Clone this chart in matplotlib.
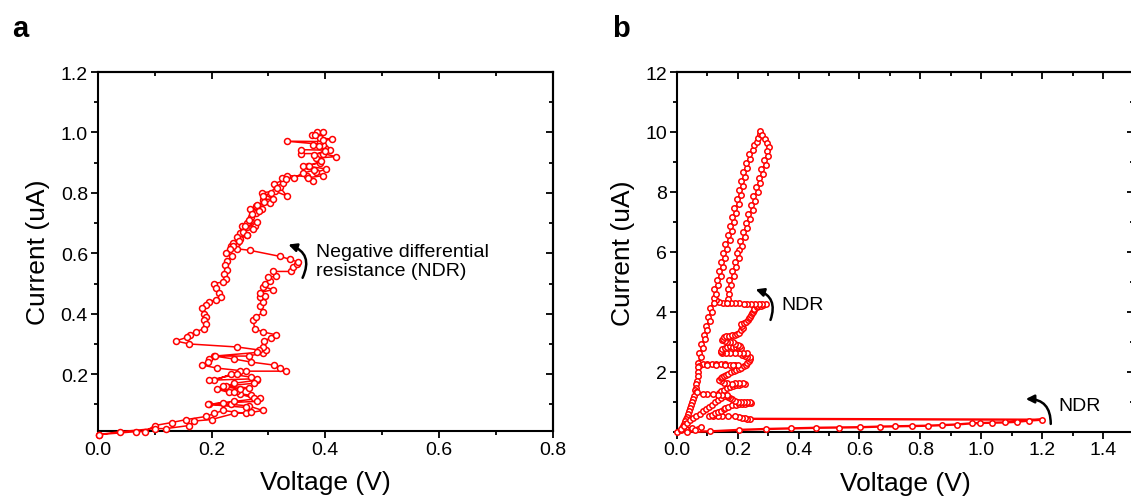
import matplotlib
matplotlib.use("Agg")
import matplotlib.pyplot as plt
from matplotlib.ticker import MultipleLocator

plt.rcParams['font.family'] = ['Liberation Sans', 'DejaVu Sans']

# ---------------- Panel a data (Voltage V, Current uA) ----------------
a_voltage = [
    0.002, 0.068, 0.083, 0.10, 0.13, 0.156, 0.19, 0.205, 0.22, 0.26, 0.29, 0.265, 0.235, 0.195,
    0.24, 0.285, 0.27, 0.25, 0.23, 0.21, 0.245, 0.265, 0.225, 0.24, 0.28, 0.27, 0.235, 0.205,
    0.25, 0.33, 0.32, 0.31, 0.27, 0.24, 0.205, 0.265, 0.29, 0.295, 0.29, 0.292, 0.304, 0.314,
    0.29, 0.276, 0.273, 0.279, 0.29, 0.285, 0.29, 0.285, 0.294, 0.285, 0.308, 0.291, 0.294,
    0.303, 0.30, 0.314, 0.308, 0.339, 0.343, 0.35, 0.352, 0.338, 0.32, 0.267, 0.244,
    0.235, 0.244, 0.25, 0.262, 0.25, 0.253, 0.276, 0.262, 0.27, 0.279, 0.267, 0.288, 0.279,
    0.303, 0.291, 0.308, 0.288, 0.311, 0.332, 0.32, 0.326, 0.323, 0.332, 0.367, 0.379, 0.369,
    0.396, 0.384, 0.402, 0.37, 0.361, 0.39, 0.384, 0.419, 0.396, 0.358, 0.358, 0.408, 0.399,
    0.379, 0.396, 0.332, 0.39, 0.411, 0.39, 0.376, 0.385, 0.396,
    0.382, 0.395, 0.388, 0.40, 0.38, 0.392, 0.372, 0.38, 0.36, 0.345, 0.33, 0.31, 0.315,
    0.305, 0.29, 0.293, 0.28, 0.283, 0.271, 0.265, 0.28, 0.258, 0.272, 0.255, 0.262, 0.245,
    0.248, 0.237, 0.238,
    0.232, 0.226, 0.236, 0.228, 0.224, 0.227, 0.222, 0.225, 0.22, 0.204, 0.207, 0.213, 0.216,
    0.208, 0.196, 0.19, 0.183, 0.186, 0.19, 0.186, 0.19, 0.186, 0.172, 0.162, 0.157, 0.137,
    0.161, 0.245, 0.284,
    0.28, 0.206, 0.196, 0.193, 0.184, 0.21, 0.26, 0.245, 0.196, 0.28, 0.275, 0.22, 0.25, 0.24,
    0.275, 0.28, 0.22, 0.193, 0.26, 0.27, 0.24, 0.20, 0.17, 0.16, 0.12, 0.10, 0.04, 0.002,
]
a_current = [
    0.0, 0.01, 0.01, 0.03, 0.04, 0.05, 0.06, 0.07, 0.08, 0.07, 0.08, 0.095, 0.10, 0.10,
    0.11, 0.12, 0.13, 0.135, 0.14, 0.15, 0.145, 0.155, 0.16, 0.17, 0.18, 0.19, 0.20, 0.18,
    0.21, 0.21, 0.22, 0.23, 0.24, 0.25, 0.26, 0.26, 0.27, 0.28, 0.29, 0.31, 0.32, 0.33,
    0.34, 0.35, 0.38, 0.39, 0.405, 0.425, 0.44, 0.455, 0.46, 0.47, 0.48, 0.49, 0.50,
    0.51, 0.52, 0.525, 0.54, 0.54, 0.555, 0.563, 0.571, 0.58, 0.59, 0.61, 0.615,
    0.625, 0.635, 0.648, 0.66, 0.668, 0.69, 0.69, 0.70, 0.72, 0.735, 0.745, 0.745, 0.757,
    0.765, 0.778, 0.78, 0.80, 0.806, 0.79, 0.82, 0.833, 0.85, 0.857, 0.855, 0.838, 0.85,
    0.857, 0.868, 0.879, 0.888, 0.888, 0.899, 0.915, 0.92, 0.93, 0.93, 0.943, 0.941, 0.95,
    0.96, 0.96, 0.971, 0.97, 0.978, 0.982, 0.99, 1.0, 1.0,
    0.99, 0.975, 0.955, 0.94, 0.925, 0.905, 0.89, 0.875, 0.865, 0.85, 0.845, 0.83, 0.815,
    0.80, 0.79, 0.77, 0.76, 0.74, 0.73, 0.71, 0.705, 0.69, 0.68, 0.672, 0.66, 0.655,
    0.64, 0.635, 0.625,
    0.615, 0.60, 0.59, 0.575, 0.56, 0.545, 0.53, 0.515, 0.505, 0.50, 0.485, 0.47, 0.457,
    0.447, 0.44, 0.428, 0.418, 0.40, 0.39, 0.38, 0.365, 0.35, 0.34, 0.33, 0.322, 0.31,
    0.30, 0.29, 0.28,
    0.272, 0.26, 0.25, 0.24, 0.23, 0.22, 0.21, 0.20, 0.18, 0.185, 0.17, 0.16, 0.15, 0.14,
    0.12, 0.11, 0.105, 0.10, 0.09, 0.075, 0.07, 0.05, 0.045, 0.03, 0.02, 0.02, 0.01, 0.0,
]

# ---------------- Panel b data (Voltage V, Current uA) ----------------
b_voltage = [
    # start near origin and low-current sweep out to 1.2 V
    0.0, 0.015, 0.03, 0.05, 0.07, 0.08, 0.06, 0.033, 0.108, 0.204, 0.292, 0.374, 0.457,
    0.534, 0.603, 0.666, 0.716, 0.773, 0.826, 0.870, 0.919, 0.969, 0.996, 1.035, 1.079,
    1.117, 1.156, 1.198,
    # NDR jump back and zig-zag rise
    0.24, 0.232, 0.225, 0.215, 0.205, 0.19, 0.17, 0.15, 0.135, 0.12, 0.105, 0.115, 0.125,
    0.135, 0.145, 0.155, 0.16, 0.17, 0.18, 0.195, 0.205, 0.215, 0.225, 0.235, 0.245, 0.24,
    0.232, 0.22, 0.21, 0.2, 0.19, 0.182, 0.175, 0.17, 0.165, 0.15, 0.14, 0.145, 0.155, 0.165,
    0.175, 0.185, 0.195, 0.205, 0.212, 0.225, 0.218, 0.205, 0.19, 0.18, 0.165, 0.155, 0.145,
    0.14, 0.144, 0.148, 0.155, 0.162, 0.17, 0.178, 0.187, 0.196, 0.204, 0.212, 0.22, 0.226,
    0.232, 0.238, 0.24, 0.24, 0.232, 0.225, 0.215, 0.222, 0.23, 0.218, 0.205, 0.19, 0.175,
    0.162, 0.15, 0.145, 0.145, 0.15, 0.158, 0.166, 0.175, 0.185, 0.195, 0.205, 0.21, 0.207,
    0.2, 0.192, 0.185, 0.175, 0.165, 0.157, 0.15, 0.152, 0.155, 0.163, 0.172, 0.181, 0.19,
    0.198, 0.205, 0.212, 0.218, 0.215, 0.212, 0.22, 0.228, 0.233, 0.238, 0.241, 0.243,
    0.247, 0.25, 0.253, 0.255, 0.262, 0.268, 0.276, 0.283, 0.292,
    # NDR at ~4.25 uA
    0.28, 0.27, 0.257, 0.245, 0.232, 0.22, 0.205, 0.19, 0.178, 0.165, 0.152, 0.14, 0.13,
    # up the left edge of the loop
    0.121, 0.130, 0.123, 0.137, 0.131, 0.144, 0.138, 0.152, 0.145, 0.159, 0.153, 0.166,
    0.160, 0.174, 0.167, 0.181, 0.175, 0.188, 0.182, 0.196, 0.189, 0.203, 0.197, 0.210,
    0.204, 0.217, 0.211, 0.225, 0.218, 0.232, 0.226, 0.240, 0.236, 0.250, 0.254, 0.262,
    0.268, 0.272, 0.275,
    # top of loop and down the right edge
    0.281, 0.29, 0.298, 0.303, 0.297, 0.300, 0.286, 0.292, 0.277, 0.283, 0.269, 0.275,
    0.260, 0.266, 0.252, 0.258, 0.243, 0.249, 0.235, 0.241, 0.226, 0.232, 0.218, 0.224,
    0.209, 0.215, 0.206, 0.198, 0.204, 0.190, 0.195, 0.181, 0.187, 0.173, 0.179, 0.168,
    0.171, 0.168, 0.165,
    # down the lower-left edge
    0.123, 0.109, 0.116, 0.102, 0.109, 0.095, 0.101, 0.088, 0.094, 0.081, 0.087, 0.074,
    0.080, 0.071,
    # bar at ~2.25 uA and back
    0.085, 0.10, 0.115, 0.13, 0.145, 0.16, 0.175, 0.19, 0.2, 0.185, 0.16, 0.13, 0.1, 0.072,
    # left edge down to ~1.3 uA
    0.071, 0.07, 0.069, 0.067, 0.065, 0.062, 0.06, 0.063,
    # bottom-left ramps and bar at ~1.25 uA
    0.058, 0.055, 0.051, 0.048, 0.044, 0.04, 0.036, 0.033, 0.03, 0.027, 0.023, 0.02, 0.017,
    0.015, 0.025, 0.035, 0.045, 0.055, 0.065, 0.075, 0.085, 0.095, 0.105, 0.115, 0.125,
    0.135, 0.145, 0.155, 0.165, 0.15, 0.135, 0.12, 0.1, 0.085, 0.066,
]
b_current = [
    0.0, 0.05, 0.10, 0.12, 0.10, 0.15, 0.06, 0.0, 0.01, 0.06, 0.09, 0.11, 0.13,
    0.14, 0.15, 0.17, 0.18, 0.19, 0.20, 0.22, 0.24, 0.28, 0.29, 0.30, 0.31,
    0.33, 0.37, 0.40,
    0.43, 0.44, 0.45, 0.47, 0.50, 0.51, 0.52, 0.53, 0.53, 0.53, 0.53, 0.57, 0.62,
    0.66, 0.70, 0.75, 0.80, 0.84, 0.88, 0.90, 0.92, 0.93, 0.94, 0.95, 0.97, 0.99,
    1.00, 0.98, 0.98, 1.00, 1.04, 1.08, 1.12, 1.16, 1.20, 1.25, 1.30, 1.35, 1.40, 1.45,
    1.50, 1.53, 1.55, 1.57, 1.58, 1.60, 1.63, 1.63, 1.61, 1.60, 1.61, 1.63, 1.68,
    1.72, 1.78, 1.82, 1.86, 1.90, 1.94, 1.98, 2.02, 2.06, 2.10, 2.14, 2.18, 2.22,
    2.28, 2.35, 2.42, 2.48, 2.50, 2.52, 2.56, 2.60, 2.62, 2.64, 2.64, 2.63, 2.62,
    2.62, 2.62, 2.66, 2.70, 2.75, 2.80, 2.83, 2.85, 2.84, 2.82, 2.80, 2.80, 2.86,
    2.90, 2.94, 2.98, 3.00, 3.00, 3.02, 3.05, 3.10, 3.15, 3.18, 3.20, 3.21, 3.22,
    3.26, 3.30, 3.38, 3.45, 3.52, 3.58, 3.62, 3.65, 3.72, 3.78, 3.84, 3.90,
    3.95, 4.00, 4.05, 4.10, 4.15, 4.18, 4.20, 4.22, 4.26,
    4.27, 4.27, 4.27, 4.27, 4.27, 4.27, 4.28, 4.28, 4.28, 4.28, 4.30, 4.32, 4.38,
    4.45, 4.60, 4.75, 4.90, 5.05, 5.20, 5.35, 5.50, 5.65, 5.80, 5.95, 6.10,
    6.25, 6.40, 6.55, 6.70, 6.85, 7.00, 7.15, 7.30, 7.45, 7.60, 7.75, 7.90,
    8.05, 8.20, 8.35, 8.50, 8.65, 8.80, 8.95, 9.10, 9.25, 9.40, 9.55, 9.65,
    9.80, 9.92, 10.02,
    9.90, 9.78, 9.64, 9.50, 9.35, 9.20, 9.05, 8.90, 8.75, 8.60, 8.45, 8.30,
    8.15, 8.00, 7.85, 7.70, 7.55, 7.40, 7.25, 7.10, 6.95, 6.80, 6.65, 6.50,
    6.35, 6.20, 6.05, 5.95, 5.80, 5.65, 5.50, 5.35, 5.20, 5.05, 4.90, 4.75,
    4.60, 4.42, 4.28,
    4.28, 4.13, 3.98, 3.83, 3.68, 3.53, 3.38, 3.23, 3.08, 2.93, 2.78, 2.63,
    2.48, 2.30,
    2.26, 2.26, 2.26, 2.26, 2.25, 2.25, 2.24, 2.24, 2.22, 2.21, 2.21, 2.21, 2.21, 2.20,
    2.15, 2.00, 1.85, 1.70, 1.58, 1.45, 1.38, 1.31,
    1.20, 1.10, 1.00, 0.90, 0.80, 0.70, 0.60, 0.50, 0.42, 0.35, 0.27, 0.20, 0.14,
    0.10, 0.20, 0.30, 0.38, 0.45, 0.53, 0.60, 0.68, 0.75, 0.83, 0.90, 0.98,
    1.05, 1.12, 1.18, 1.22, 1.23, 1.24, 1.25, 1.26, 1.27, 1.31,
]

a_xticks = [0.0, 0.2, 0.4, 0.6, 0.8]
a_yticks = [0.2, 0.4, 0.6, 0.8, 1.0, 1.2]
b_xticks = [0.0, 0.2, 0.4, 0.6, 0.8, 1.0, 1.2, 1.4]
b_yticks = [2, 4, 6, 8, 10, 12]

RED = '#ff0000'
W, H = 1131, 502
fig = plt.figure(figsize=(W / 100, H / 100), dpi=100)


def px_axes(x0, x1, y0, y1):
    return fig.add_axes([x0 / W, 1 - y1 / H, (x1 - x0) / W, (y1 - y0) / H])


def style_axes(ax, xticks, yticks, xminor, yminor, xfmt, yfmt):
    ax.set_xticks(xticks)
    ax.set_yticks(yticks)
    ax.set_xticklabels([xfmt.format(v) for v in xticks])
    ax.set_yticklabels([yfmt.format(v) for v in yticks])
    ax.xaxis.set_minor_locator(MultipleLocator(xminor))
    ax.yaxis.set_minor_locator(MultipleLocator(yminor))
    ax.tick_params(which='both', direction='out', width=1.3, labelsize=14, colors='black',
                   top=False, right=False)
    ax.tick_params(which='major', length=5, pad=2)
    ax.tick_params(which='minor', length=3)
    for s in ax.spines.values():
        s.set_linewidth(1.5)
    top = ax.secondary_xaxis('top')
    top.set_xticks(xticks)
    top.xaxis.set_minor_locator(MultipleLocator(xminor))
    top.tick_params(which='both', direction='in', width=1.3, labeltop=False)
    top.tick_params(which='major', length=5)
    top.tick_params(which='minor', length=3)
    top.spines['top'].set_linewidth(1.5)
    right = ax.secondary_yaxis('right')
    right.set_yticks(yticks)
    right.yaxis.set_minor_locator(MultipleLocator(yminor))
    right.tick_params(which='both', direction='in', width=1.3, labelright=False)
    right.tick_params(which='major', length=5)
    right.tick_params(which='minor', length=3)
    right.spines['right'].set_linewidth(1.5)


# ---------------- Panel a ----------------
axa = px_axes(97.7, 553, 73, 432)
axa.plot(a_voltage, a_current, '-o', color=RED, lw=1.1, ms=4.3, mew=1.1,
         mfc='white', mec=RED, clip_on=False, zorder=3)
axa.set_xlim(0.0, 0.8)
axa.set_ylim(0.012, 1.2)
style_axes(axa, a_xticks, a_yticks, 0.1, 0.1, '{:.1f}', '{:.1f}')
axa.set_xlabel('Voltage (V)', fontsize=19)
axa.set_ylabel('Current (uA)', fontsize=19)
axa.xaxis.set_label_coords(0.5, -0.11)
axa.yaxis.set_label_coords(-0.105, 0.5)
axa.text(0.384, 0.573, 'Negative differential\nresistance (NDR)', fontsize=14,
         ha='left', va='center', linespacing=1.15)
axa.annotate('', xy=(0.335, 0.629), xytext=(0.36, 0.519),
             arrowprops=dict(arrowstyle='-|>', color='black', lw=1.8, mutation_scale=12,
                             connectionstyle='arc3,rad=0.55', shrinkA=0, shrinkB=0))

# ---------------- Panel b ----------------
axb = px_axes(676.7, 1133.6, 73, 432.7)
axb.plot(b_voltage, b_current, '-o', color=RED, lw=1.7, ms=3.9, mew=1.1,
         mfc='white', mec=RED, clip_on=False, zorder=3)
axb.set_xlim(0.0, 1.5)
axb.set_ylim(0.0, 12)
style_axes(axb, b_xticks, b_yticks, 0.1, 1, '{:.1f}', '{:d}')
axb.set_xlabel('Voltage (V)', fontsize=19)
axb.set_ylabel('Current (uA)', fontsize=19)
axb.xaxis.set_label_coords(0.5, -0.11)
axb.yaxis.set_label_coords(-0.091, 0.5)
axb.text(0.344, 4.26, 'NDR', fontsize=14, ha='left', va='center')
axb.annotate('', xy=(0.259, 4.75), xytext=(0.308, 3.73),
             arrowprops=dict(arrowstyle='-|>', color='black', lw=1.8, mutation_scale=12,
                             connectionstyle='arc3,rad=0.5', shrinkA=0, shrinkB=0))
axb.text(1.254, 0.86, 'NDR', fontsize=14, ha='left', va='center')
axb.annotate('', xy=(1.146, 1.09), xytext=(1.228, 0.26),
             arrowprops=dict(arrowstyle='-|>', color='black', lw=1.8, mutation_scale=12,
                             connectionstyle='arc3,rad=0.5', shrinkA=0, shrinkB=0))

# panel letters
fig.text(12 / W, 1 - 37 / H, 'a', fontsize=21, fontweight='bold',
         family=['Liberation Sans Narrow', 'Liberation Sans'], ha='left', va='baseline')
fig.text(612 / W, 1 - 37 / H, 'b', fontsize=21, fontweight='bold',
         family=['Liberation Sans Narrow', 'Liberation Sans'], ha='left', va='baseline')

fig.savefig('out.png', dpi=100)
